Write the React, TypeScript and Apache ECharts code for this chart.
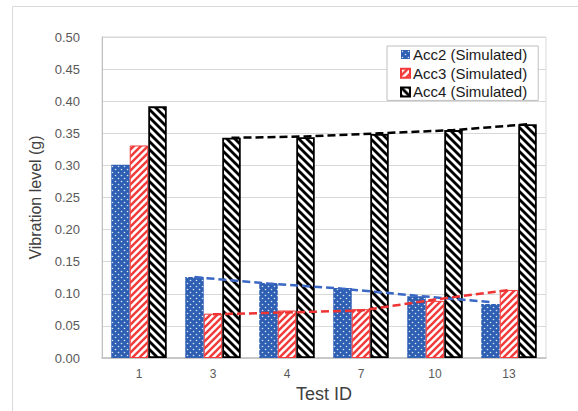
import React, { useEffect, useRef } from "react";
import * as echarts from "echarts";

const categories = ["1", "3", "4", "7", "10", "13"];
const seriesNames = ["Acc2 (Simulated)", "Acc3 (Simulated)", "Acc4 (Simulated)"];
const acc2 = [0.301, 0.126, 0.117, 0.109, 0.096, 0.084];
const acc3 = [0.331, 0.069, 0.074, 0.076, 0.089, 0.106];
const acc4 = [0.392, 0.343, 0.344, 0.349, 0.355, 0.364];
// trend lines (dashed), read at the same categories (none at test 1)
const trend2 = [null, 0.126, 0.116, 0.108, 0.097, 0.087];
const trend3 = [null, 0.068, 0.071, 0.074, 0.091, 0.106];
const trend4 = [null, 0.343, 0.345, 0.35, 0.355, 0.364];
const yMin = 0;
const yMax = 0.5;
const yStep = 0.05;

const BLUE = "#2f5fb3";
const RED = "#f23a3a";
const BLACK = "#000000";

function makeTile(size: number, draw: (ctx: CanvasRenderingContext2D, s: number) => void) {
  const c = document.createElement("canvas");
  c.width = size;
  c.height = size;
  const ctx = c.getContext("2d") as CanvasRenderingContext2D;
  draw(ctx, size);
  return { image: c, repeat: "repeat", imageWidth: size, imageHeight: size } as any;
}

function dotsPattern() {
  return makeTile(6, (ctx, s) => {
    ctx.fillStyle = BLUE;
    ctx.fillRect(0, 0, s, s);
    ctx.fillStyle = "rgba(235,242,255,0.9)";
    ctx.beginPath();
    ctx.arc(1.5, 1.5, 0.8, 0, Math.PI * 2);
    ctx.fill();
    ctx.beginPath();
    ctx.arc(4.5, 4.5, 0.8, 0, Math.PI * 2);
    ctx.fill();
  });
}

function fwdStripes(color: string, s: number, w: number) {
  return makeTile(s, (ctx) => {
    ctx.fillStyle = "#ffffff";
    ctx.fillRect(0, 0, s, s);
    ctx.strokeStyle = color;
    ctx.lineWidth = w;
    for (const c of [0, s, 2 * s]) {
      ctx.beginPath();
      ctx.moveTo(-2, c + 2);
      ctx.lineTo(c + 2, -2);
      ctx.stroke();
    }
  });
}

function backStripes(color: string, s: number, w: number) {
  return makeTile(s, (ctx) => {
    ctx.fillStyle = "#ffffff";
    ctx.fillRect(0, 0, s, s);
    ctx.strokeStyle = color;
    ctx.lineWidth = w;
    for (const c of [-s, 0, s]) {
      ctx.beginPath();
      ctx.moveTo(-2, c - 2);
      ctx.lineTo(s + 2, c + s + 2);
      ctx.stroke();
    }
  });
}

const FONT = "'Liberation Sans', Arial, sans-serif";

export default function App() {
  const ref = useRef<HTMLDivElement>(null);
  useEffect(() => {
    if (!ref.current) return;
    const chart = echarts.init(ref.current, null, { renderer: "svg" });
    const catGap = 0.25;
    const barW = (1 - catGap) / 3;
    const offsets = [-barW, 0, barW];
    const trendPts = (arr: (number | null)[], k: number) =>
      arr
        .map((v, i) => (v == null ? null : [i + 0.5 + offsets[k], v]))
        .filter((p) => p != null);

    const option: any = {
      animation: false,
      textStyle: { fontFamily: FONT },
      graphic: [
        {
          type: "rect",
          shape: { x: 12.5, y: 6.5, width: 700, height: 600 },
          style: { fill: "none", stroke: "#d9d9d9", lineWidth: 1 },
          silent: true,
          z: -10,
        },
      ],
      grid: {
        left: 102,
        top: 37,
        right: 32,
        bottom: 53,
        show: true,
        borderColor: "#d9d9d9",
        borderWidth: 1,
        backgroundColor: "transparent",
      },
      legend: {
        data: seriesNames,
        orient: "vertical",
        left: 387,
        top: 46,
        padding: [1, 11, 1, 13],
        itemGap: 3.7,
        itemWidth: 9,
        itemHeight: 9,
        icon: "rect",
        backgroundColor: "#ffffff",
        borderColor: "#bfbfbf",
        borderWidth: 1,
        borderRadius: 0,
        textStyle: {
          fontSize: 15,
          lineHeight: 15,
          color: "#1a1a1a",
          fontFamily: FONT,
          padding: [0, 0, 0, -2],
        },
      },
      xAxis: [
        {
          type: "category",
          data: categories,
          name: "Test ID",
          nameLocation: "middle",
          nameGap: 27,
          nameTextStyle: { fontSize: 18, color: "#404040", fontFamily: FONT },
          axisLine: { lineStyle: { color: "#bfbfbf", width: 1.5 } },
          axisTick: { show: false },
          axisLabel: { fontSize: 12, color: "#595959", margin: 10, fontFamily: FONT },
          splitLine: { show: false },
        },
        { type: "value", min: 0, max: categories.length, show: false },
      ],
      yAxis: {
        type: "value",
        min: yMin,
        max: yMax,
        interval: yStep,
        name: "Vibration level (g)",
        nameLocation: "middle",
        nameGap: 53,
        nameTextStyle: { fontSize: 16, color: "#404040", fontFamily: FONT },
        axisLine: { show: true, lineStyle: { color: "#bfbfbf", width: 1 } },
        axisTick: { show: false },
        axisLabel: {
          fontSize: 13,
          color: "#595959",
          margin: 22,
          fontFamily: FONT,
          formatter: (v: number) => v.toFixed(2),
        },
        splitLine: { lineStyle: { color: "#d9d9d9", width: 1 } },
      },
      series: [
        {
          name: seriesNames[0],
          type: "bar",
          data: acc2,
          barGap: "0%",
          barCategoryGap: "25%",
          itemStyle: { color: dotsPattern(), borderColor: BLUE, borderWidth: 0 },
        },
        {
          name: seriesNames[1],
          type: "bar",
          data: acc3,
          barGap: "0%",
          barCategoryGap: "25%",
          itemStyle: { color: fwdStripes(RED, 7, 2.4), borderColor: RED, borderWidth: 1 },
        },
        {
          name: seriesNames[2],
          type: "bar",
          data: acc4,
          barGap: "0%",
          barCategoryGap: "25%",
          itemStyle: { color: backStripes(BLACK, 8, 2.8), borderColor: BLACK, borderWidth: 1.8 },
        },
        {
          name: "trend2",
          type: "line",
          xAxisIndex: 1,
          data: trendPts(trend2, 0),
          symbol: "none",
          lineStyle: { color: "#3a68c4", width: 2.5, type: [8, 4] },
          z: 5,
        },
        {
          name: "trend3",
          type: "line",
          xAxisIndex: 1,
          data: trendPts(trend3, 1),
          symbol: "none",
          lineStyle: { color: "#ee3333", width: 2.5, type: [8, 4] },
          z: 5,
        },
        {
          name: "trend4",
          type: "line",
          xAxisIndex: 1,
          data: trendPts(trend4, 2),
          symbol: "none",
          lineStyle: { color: "#000000", width: 2.5, type: [8, 4] },
          z: 5,
        },
      ],
    };
    chart.setOption(option);
    return () => chart.dispose();
  }, []);
  return (
    <div
      ref={ref}
      style={{ position: "fixed", left: 0, top: 0, width: 578, height: 411, background: "#ffffff" }}
    />
  );
}
